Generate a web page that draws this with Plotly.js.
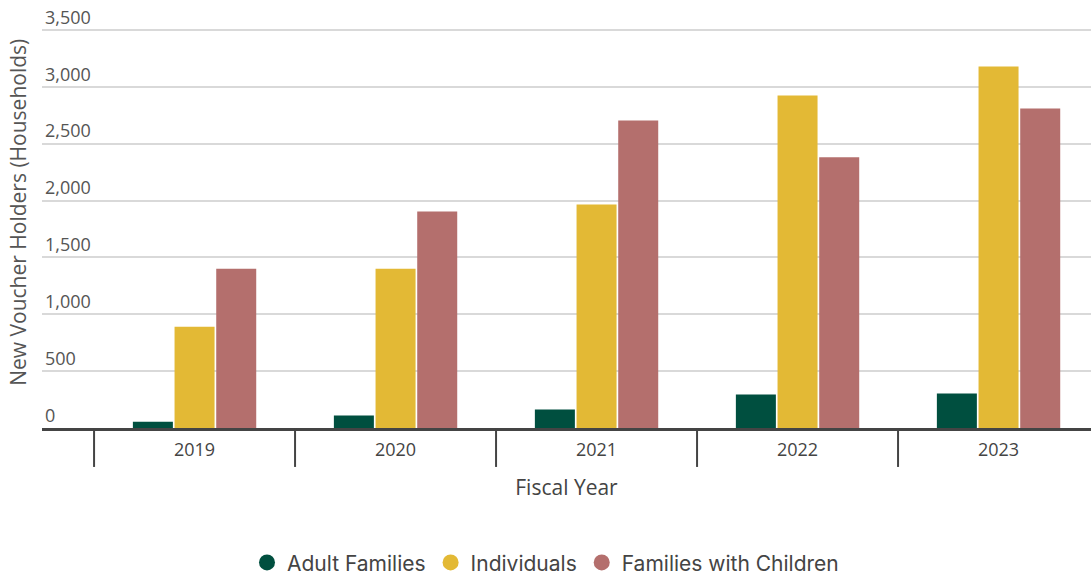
<!DOCTYPE html>
<html>
<head>
<meta charset="utf-8">
<script src="https://cdn.plot.ly/plotly-3.0.1.min.js"></script>
<style>html,body{margin:0;padding:0;background:#fff;}#chart{width:1091px;height:579px;}</style>
</head>
<body>
<div id="chart"></div>
<script>
var categories = ['2019', '2020', '2021', '2022', '2023'];
var seriesNames = ['Adult Families', 'Individuals', 'Families with Children'];
var adultFamilies = [55, 110, 163, 295, 303];
var individuals = [890, 1400, 1965, 2925, 3180];
var familiesWithChildren = [1400, 1905, 2705, 2380, 2810];
var colors = ['#004F3F', '#E3B935', '#B46F6D'];
var seriesValues = [adultFamilies, individuals, familiesWithChildren];

var traces = [];
seriesValues.forEach(function (vals, i) {
  traces.push({
    type: 'bar', x: categories, y: vals, name: seriesNames[i],
    marker: {color: colors[i]}, showlegend: false, hoverinfo: 'x+y'
  });
});
seriesValues.forEach(function (vals, i) {
  traces.push({
    type: 'scatter', mode: 'markers', x: [null], y: [null], name: seriesNames[i],
    marker: {color: colors[i], size: 22, symbol: 'circle'}, showlegend: true
  });
});

var shapes = [];
for (var k = 0; k < categories.length; k++) {
  shapes.push({type: 'line', xref: 'x', yref: 'paper', x0: k - 0.5, x1: k - 0.5,
    y0: 0, y1: -0.091, line: {color: '#444', width: 2}});
}

var layout = {
  width: 1091, height: 579,
  margin: {l: 42, r: 0, t: 0, b: 151},
  paper_bgcolor: '#fff', plot_bgcolor: '#fff',
  font: {family: 'Open Sans, sans-serif', color: '#444'},
  barmode: 'group', bargap: 0.378, bargroupgap: 0.04,
  xaxis: {
    type: 'category', range: [-0.759, 4.46],
    showline: true, linecolor: '#444', linewidth: 3,
    showgrid: false, ticks: 'outside', ticklen: 3, tickcolor: 'rgba(0,0,0,0)',
    tickfont: {size: 18, color: '#444'},
    title: {text: 'Fiscal Year', font: {size: 21, color: '#444'}, standoff: 21}
  },
  yaxis: {
    range: [0, 3764], tickvals: [0, 500, 1000, 1500, 2000, 2500, 3000, 3500], tickformat: ',',
    showgrid: true, gridcolor: '#d9d9d9', gridwidth: 2, zeroline: false,
    showline: false, ticks: '',
    ticklabelposition: 'inside top',
    tickfont: {size: 18, color: '#555'}
  },
  annotations: [{
    text: 'New Voucher Holders (Households)', textangle: -90,
    xref: 'paper', yref: 'paper', x: -0.0229, y: 0.505,
    xanchor: 'center', yanchor: 'middle', showarrow: false,
    font: {size: 21, color: '#555'}
  }],
  shapes: shapes,
  legend: {
    orientation: 'h', xref: 'container', yref: 'container',
    x: 0.5, xanchor: 'center', y: 0.028, yanchor: 'middle',
    font: {family: 'Inter, sans-serif', size: 21, color: '#444'},
    itemsizing: 'trace'
  }
};

Plotly.newPlot('chart', traces, layout, {displayModeBar: false, responsive: false});
</script>
</body>
</html>
